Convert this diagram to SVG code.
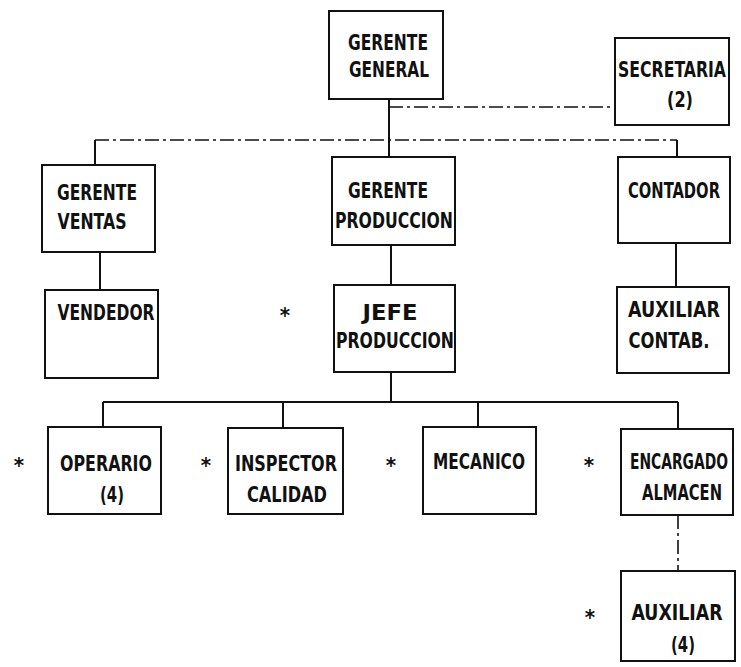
<svg xmlns="http://www.w3.org/2000/svg" width="741" height="667" viewBox="0 0 741 667">
<style>
.box{fill:none;stroke:#111;stroke-width:2}
.ln{fill:none;stroke:#111;stroke-width:2}
.dash{fill:none;stroke:#111;stroke-width:1.6;stroke-dasharray:14 4 3 4}
text{font-family:"DejaVu Sans Condensed","DejaVu Sans","Liberation Sans",sans-serif;font-stretch:condensed;font-size:20.5px;font-weight:600;fill:#111;text-anchor:middle}
.ast{font-size:22px;font-weight:bold}
</style>
<rect width="741" height="667" fill="#fff"/>
<g id="connectors">
<path class="ln" d="M389 99V157"/>
<path class="dash" d="M389 107H615"/>
<path class="dash" d="M95 140H677"/>
<path class="ln" d="M95 140V165M677 140V157"/>
<path class="ln" d="M100 252V290"/>
<path class="ln" d="M391 245V285"/>
<path class="ln" d="M676 243V287"/>
<path class="ln" d="M391 372V402M103 402H678M103 402V427M283 402V428M478 402V427M678 402V429"/>
<path class="dash" d="M678 515V571"/>
</g>
<g id="gerente-general"><rect class="box" x="329" y="11" width="114" height="88"/><text x="388" y="50" textLength="80" lengthAdjust="spacingAndGlyphs">GERENTE</text><text x="389" y="77" textLength="80" lengthAdjust="spacingAndGlyphs">GENERAL</text></g>
<g id="secretaria"><rect class="box" x="615" y="38" width="114" height="87"/><text x="672" y="77" textLength="108" lengthAdjust="spacingAndGlyphs">SECRETARIA</text><text x="680" y="107" textLength="26" lengthAdjust="spacingAndGlyphs">(2)</text></g>
<g id="gerente-ventas"><rect class="box" x="42" y="165" width="113" height="87"/><text x="97" y="200" textLength="80" lengthAdjust="spacingAndGlyphs">GERENTE</text><text x="92" y="229" textLength="69" lengthAdjust="spacingAndGlyphs">VENTAS</text></g>
<g id="gerente-produccion"><rect class="box" x="332" y="157" width="123" height="88"/><text x="388" y="198" textLength="80" lengthAdjust="spacingAndGlyphs">GERENTE</text><text x="394" y="228" textLength="118" lengthAdjust="spacingAndGlyphs">PRODUCCION</text></g>
<g id="contador"><rect class="box" x="618" y="157" width="112" height="86"/><text x="674" y="198" textLength="92" lengthAdjust="spacingAndGlyphs">CONTADOR</text></g>
<g id="vendedor"><rect class="box" x="45" y="290" width="113" height="88"/><text x="106" y="320" textLength="97" lengthAdjust="spacingAndGlyphs">VENDEDOR</text></g>
<g id="jefe-produccion"><rect class="box" x="334" y="285" width="121" height="87"/><text x="390" y="320" textLength="55" lengthAdjust="spacingAndGlyphs">JEFE</text><text x="395" y="348" textLength="118" lengthAdjust="spacingAndGlyphs">PRODUCCION</text><text class="ast" x="285" y="323">*</text></g>
<g id="auxiliar-contab"><rect class="box" x="617" y="287" width="112" height="86"/><text x="674" y="317" textLength="92" lengthAdjust="spacingAndGlyphs">AUXILIAR</text><text x="669" y="348" textLength="81" lengthAdjust="spacingAndGlyphs">CONTAB.</text></g>
<g id="operario"><rect class="box" x="48" y="427" width="113" height="87"/><text x="106" y="471" textLength="92" lengthAdjust="spacingAndGlyphs">OPERARIO</text><text x="112" y="502" textLength="24" lengthAdjust="spacingAndGlyphs">(4)</text><text class="ast" x="19" y="473">*</text></g>
<g id="inspector-calidad"><rect class="box" x="228" y="428" width="115" height="86"/><text x="286" y="471" textLength="102" lengthAdjust="spacingAndGlyphs">INSPECTOR</text><text x="287" y="502" textLength="80" lengthAdjust="spacingAndGlyphs">CALIDAD</text><text class="ast" x="206" y="473">*</text></g>
<g id="mecanico"><rect class="box" x="423" y="427" width="113" height="87"/><text x="479" y="469" textLength="92" lengthAdjust="spacingAndGlyphs">MECANICO</text><text class="ast" x="391" y="473">*</text></g>
<g id="encargado-almacen"><rect class="box" x="621" y="429" width="112" height="86"/><text x="679" y="469" textLength="98" lengthAdjust="spacingAndGlyphs">ENCARGADO</text><text x="682" y="500" textLength="80" lengthAdjust="spacingAndGlyphs">ALMACEN</text><text class="ast" x="589" y="473">*</text></g>
<g id="auxiliar-almacen"><rect class="box" x="621" y="571" width="114" height="90"/><text x="677" y="620" textLength="91" lengthAdjust="spacingAndGlyphs">AUXILIAR</text><text x="683" y="652" textLength="24" lengthAdjust="spacingAndGlyphs">(4)</text><text class="ast" x="590" y="625">*</text></g>
</svg>
